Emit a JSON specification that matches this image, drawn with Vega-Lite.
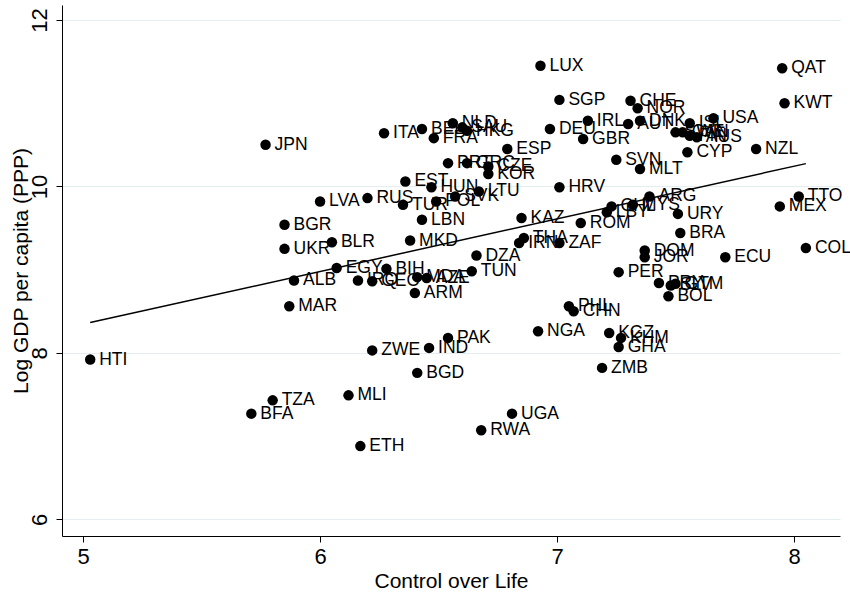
{
  "$schema": "https://vega.github.io/schema/vega-lite/v6.json",
  "width": 778,
  "height": 531,
  "autosize": {"type": "none"},
  "padding": {"left": 62, "top": 5, "right": 10, "bottom": 58},
  "background": "white",
  "config": {"view": {"stroke": null}, "font": "Liberation Sans"},
  "data": {
    "values": [
      {"code": "HTI", "life": 5.03, "gdp": 7.92},
      {"code": "BFA", "life": 5.71, "gdp": 7.27},
      {"code": "TZA", "life": 5.80, "gdp": 7.43},
      {"code": "JPN", "life": 5.77, "gdp": 10.50},
      {"code": "MLI", "life": 6.12, "gdp": 7.49},
      {"code": "ETH", "life": 6.17, "gdp": 6.88},
      {"code": "ZWE", "life": 6.22, "gdp": 8.03},
      {"code": "IND", "life": 6.46, "gdp": 8.06},
      {"code": "BGD", "life": 6.41, "gdp": 7.76},
      {"code": "PAK", "life": 6.54, "gdp": 8.18},
      {"code": "RWA", "life": 6.68, "gdp": 7.07},
      {"code": "UGA", "life": 6.81, "gdp": 7.27},
      {"code": "NGA", "life": 6.92, "gdp": 8.26},
      {"code": "ZMB", "life": 7.19, "gdp": 7.82},
      {"code": "KGZ", "life": 7.22, "gdp": 8.24},
      {"code": "KHM", "life": 7.27, "gdp": 8.18},
      {"code": "GHA", "life": 7.26, "gdp": 8.07},
      {"code": "PHL", "life": 7.05, "gdp": 8.56},
      {"code": "CHN", "life": 7.07, "gdp": 8.50},
      {"code": "BOL", "life": 7.47, "gdp": 8.68},
      {"code": "PRY", "life": 7.43, "gdp": 8.84},
      {"code": "SLV", "life": 7.48, "gdp": 8.81},
      {"code": "GTM", "life": 7.50, "gdp": 8.83},
      {"code": "PER", "life": 7.26, "gdp": 8.97},
      {"code": "DOM", "life": 7.37, "gdp": 9.23},
      {"code": "JOR", "life": 7.37, "gdp": 9.15},
      {"code": "ECU", "life": 7.71, "gdp": 9.15},
      {"code": "COL", "life": 8.05, "gdp": 9.26},
      {"code": "BRA", "life": 7.52, "gdp": 9.44},
      {"code": "URY", "life": 7.51, "gdp": 9.67},
      {"code": "MEX", "life": 7.94, "gdp": 9.76},
      {"code": "TTO", "life": 8.02, "gdp": 9.88},
      {"code": "ARG", "life": 7.39, "gdp": 9.88},
      {"code": "MYS", "life": 7.32, "gdp": 9.78},
      {"code": "CHL", "life": 7.23, "gdp": 9.76},
      {"code": "LBY", "life": 7.21, "gdp": 9.69},
      {"code": "ROM", "life": 7.10, "gdp": 9.56},
      {"code": "KAZ", "life": 6.85, "gdp": 9.62},
      {"code": "IRN", "life": 6.84, "gdp": 9.32},
      {"code": "THA", "life": 6.86, "gdp": 9.38},
      {"code": "ZAF", "life": 7.01, "gdp": 9.32},
      {"code": "HRV", "life": 7.01, "gdp": 9.99},
      {"code": "DZA", "life": 6.66, "gdp": 9.17},
      {"code": "TUN", "life": 6.64, "gdp": 8.98},
      {"code": "ARM", "life": 6.40, "gdp": 8.72},
      {"code": "MDA", "life": 6.41, "gdp": 8.91},
      {"code": "AZE", "life": 6.45, "gdp": 8.90},
      {"code": "BIH", "life": 6.28, "gdp": 9.01},
      {"code": "EGY", "life": 6.07, "gdp": 9.02},
      {"code": "IRQ", "life": 6.16, "gdp": 8.87},
      {"code": "GEO", "life": 6.22, "gdp": 8.86},
      {"code": "ALB", "life": 5.89, "gdp": 8.87},
      {"code": "MAR", "life": 5.87, "gdp": 8.56},
      {"code": "UKR", "life": 5.85, "gdp": 9.25},
      {"code": "BLR", "life": 6.05, "gdp": 9.33},
      {"code": "BGR", "life": 5.85, "gdp": 9.54},
      {"code": "MKD", "life": 6.38, "gdp": 9.35},
      {"code": "LBN", "life": 6.43, "gdp": 9.60},
      {"code": "LVA", "life": 6.00, "gdp": 9.82},
      {"code": "RUS", "life": 6.20, "gdp": 9.86},
      {"code": "TUR", "life": 6.35, "gdp": 9.78},
      {"code": "POL", "life": 6.49, "gdp": 9.82},
      {"code": "EST", "life": 6.36, "gdp": 10.06},
      {"code": "HUN", "life": 6.47, "gdp": 9.99},
      {"code": "SVK", "life": 6.57, "gdp": 9.88},
      {"code": "LTU", "life": 6.67, "gdp": 9.94},
      {"code": "PRT", "life": 6.54, "gdp": 10.28},
      {"code": "GRC", "life": 6.62, "gdp": 10.28},
      {"code": "CZE", "life": 6.71, "gdp": 10.24},
      {"code": "KOR", "life": 6.71, "gdp": 10.15},
      {"code": "ESP", "life": 6.79, "gdp": 10.45},
      {"code": "ITA", "life": 6.27, "gdp": 10.64},
      {"code": "BEL", "life": 6.43, "gdp": 10.69},
      {"code": "FRA", "life": 6.48, "gdp": 10.58},
      {"code": "NLD", "life": 6.56, "gdp": 10.76},
      {"code": "SAU", "life": 6.60, "gdp": 10.71},
      {"code": "HKG", "life": 6.62, "gdp": 10.67},
      {"code": "DEU", "life": 6.97, "gdp": 10.69},
      {"code": "GBR", "life": 7.11, "gdp": 10.57},
      {"code": "IRL", "life": 7.13, "gdp": 10.79},
      {"code": "AUT", "life": 7.30, "gdp": 10.75},
      {"code": "DNK", "life": 7.35, "gdp": 10.79},
      {"code": "CHE", "life": 7.31, "gdp": 11.03},
      {"code": "NOR", "life": 7.34, "gdp": 10.94},
      {"code": "USA", "life": 7.66, "gdp": 10.82},
      {"code": "ISL", "life": 7.56, "gdp": 10.76},
      {"code": "SWE", "life": 7.50, "gdp": 10.65},
      {"code": "CAN", "life": 7.53, "gdp": 10.65},
      {"code": "FIN", "life": 7.56, "gdp": 10.61},
      {"code": "AUS", "life": 7.59, "gdp": 10.59},
      {"code": "SGP", "life": 7.01, "gdp": 11.04},
      {"code": "LUX", "life": 6.93, "gdp": 11.45},
      {"code": "QAT", "life": 7.95, "gdp": 11.42},
      {"code": "KWT", "life": 7.96, "gdp": 11.00},
      {"code": "NZL", "life": 7.84, "gdp": 10.45},
      {"code": "CYP", "life": 7.55, "gdp": 10.41},
      {"code": "SVN", "life": 7.25, "gdp": 10.32},
      {"code": "MLT", "life": 7.35, "gdp": 10.21}
    ]
  },
  "encoding": {
    "x": {
      "field": "life",
      "type": "quantitative",
      "scale": {"domain": [4.911, 8.194], "nice": false, "zero": false},
      "axis": {
        "values": [5, 6, 7, 8],
        "title": "Control over Life",
        "grid": false,
        "domainColor": "black",
        "tickColor": "black",
        "tickSize": 6,
        "labelFontSize": 22,
        "labelColor": "black",
        "labelPadding": 4,
        "titleFontSize": 21,
        "titleFontWeight": "normal",
        "titleColor": "black",
        "titlePadding": 3
      }
    },
    "y": {
      "field": "gdp",
      "type": "quantitative",
      "scale": {"domain": [5.8, 12.18], "nice": false, "zero": false},
      "axis": {
        "values": [6, 8, 10, 12],
        "title": "Log GDP per capita (PPP)",
        "grid": true,
        "gridColor": "#e4edf0",
        "gridWidth": 1,
        "domainColor": "black",
        "tickColor": "black",
        "tickSize": 6,
        "labelFontSize": 22,
        "labelColor": "black",
        "labelAngle": 270,
        "labelAlign": "center",
        "labelBaseline": "bottom",
        "labelPadding": 5,
        "titleFontSize": 21,
        "titleFontWeight": "normal",
        "titleColor": "black",
        "titlePadding": -3
      }
    }
  },
  "layer": [
    {
      "mark": {"type": "circle", "color": "black", "opacity": 1, "size": 110},
      "encoding": {}
    },
    {
      "transform": [{"regression": "gdp", "on": "life"}],
      "mark": {"type": "line", "color": "black", "strokeWidth": 1.5},
      "encoding": {}
    },
    {
      "mark": {"type": "text", "align": "left", "baseline": "middle", "dx": 9, "fontSize": 17.5, "color": "black"},
      "encoding": {"text": {"field": "code", "type": "nominal"}}
    }
  ]
}
